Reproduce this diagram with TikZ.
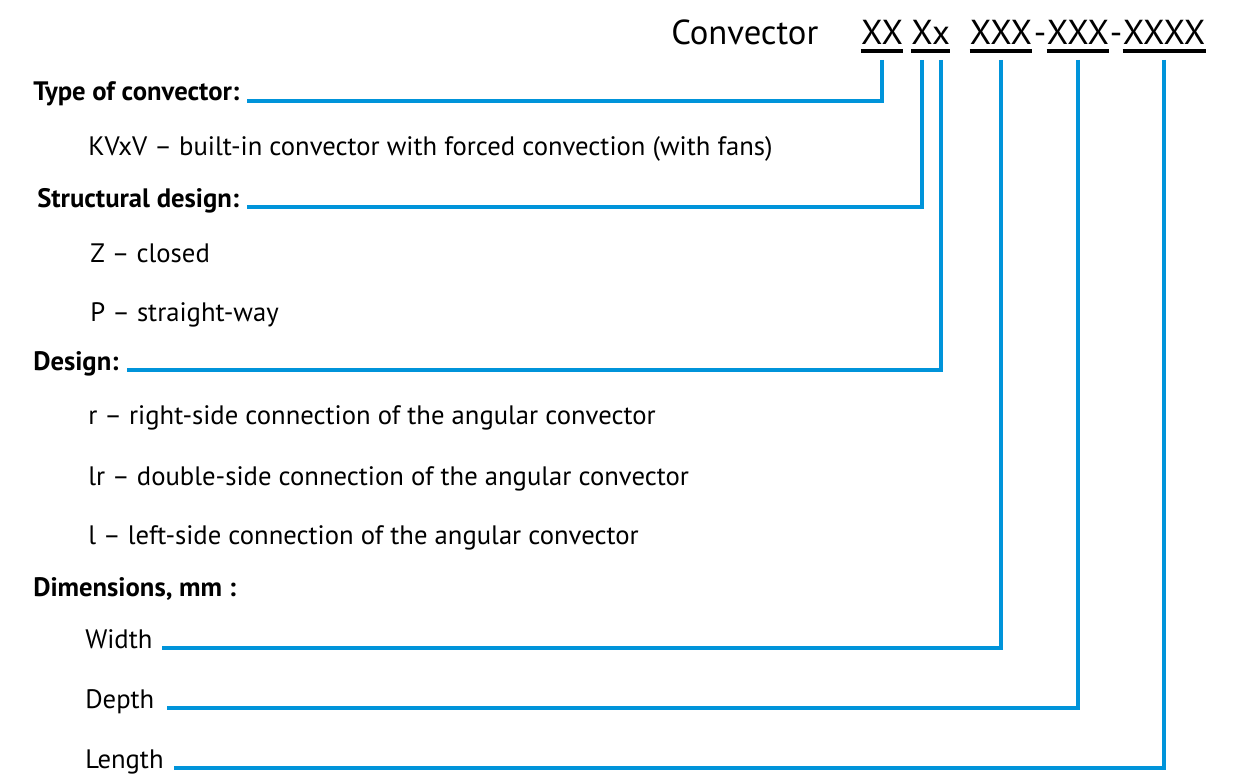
\documentclass[tikz,border=0pt]{standalone}
\usepackage{fontspec}
\setmainfont{PT Sans}
\usepackage{xcolor}
\usetikzlibrary{positioning}
\definecolor{leadblue}{RGB}{0,148,218}
\tikzset{
  heading/.style={anchor=base west, inner sep=0pt, font=\bfseries\fontsize{20}{24}\selectfont},
  option/.style={anchor=base west, inner sep=0pt, font=\fontsize{20}{24}\selectfont},
  code/.style={anchor=base, inner sep=0pt, font=\fontsize{26}{31}\selectfont},
  lead/.style={draw=leadblue, line width=2.5pt},
  uline/.style={draw=black, line width=2.4pt},
}

\begin{document}
\begin{tikzpicture}[x=0.75pt, y=-0.75pt]
  \useasboundingbox (0,0) rectangle (1233,774);
  \coordinate (ul) at (0,51);
  \coordinate (top) at (0,60);

  % designation
  \node[code, anchor=base west] (conv) at (671,45) {Convector};
  \node[code] (c1) at (882,45) {XX};
  \node[code] (c2a) at (922,45) {X};
  \node[code] (c2b) at (941,45) {x};
  \node[code] (c3) at (1001,45) {XXX};
  \node[code] (d1) at (1040,45) {-};
  \node[code] (c4) at (1078,45) {XXX};
  \node[code] (d2) at (1116,45) {-};
  \node[code] (c5) at (1164,45) {XXXX};

  \draw[uline] (c1.west |- ul) -- (c1.east |- ul);
  \draw[uline] (c2a.west |- ul) -- (c2b.east |- ul);
  \draw[uline] (c3.west |- ul) -- (c3.east |- ul);
  \draw[uline] (c4.west |- ul) -- (c4.east |- ul);
  \draw[uline] (c5.west |- ul) -- (c5.east |- ul);

  % legend
  \node[heading] (type) at (33,101) {Type of convector:};
  \node[option] (kvxv) at (88,156) {KVxV – built-in convector with forced convection (with fans)};
  \node[heading] (struct) at (37,207) {Structural design:};
  \node[option] (closed) at (90,262) {Z – closed};
  \node[option] (straight) at (90,321) {P – straight-way};
  \node[heading] (design) at (33,370) {Design:};
  \node[option] (right) at (88,424) {r – right-side connection of the angular convector};
  \node[option] (double) at (88,485) {lr – double-side connection of the angular convector};
  \node[option] (left) at (88,544) {l – left-side connection of the angular convector};
  \node[heading] (dims) at (33,596) {Dimensions, mm :};
  \node[option] (width) at (85,648) {Width};
  \node[option] (depth) at (85,708) {Depth};
  \node[option] (length) at (85,768) {Length};

  \draw[lead] (c1 |- top) |- ([xshift=6pt]type.base east);
  \draw[lead] (c2a |- top) |- ([xshift=6pt]struct.base east);
  \draw[lead] (c2b |- top) |- ([xshift=6pt]design.base east);
  \draw[lead] (c3 |- top) |- ([xshift=7pt]width.base east);
  \draw[lead] (c4 |- top) |- ([xshift=9pt]depth.base east);
  \draw[lead] (c5 |- top) |- ([xshift=8pt]length.base east);
\end{tikzpicture}
\end{document}
